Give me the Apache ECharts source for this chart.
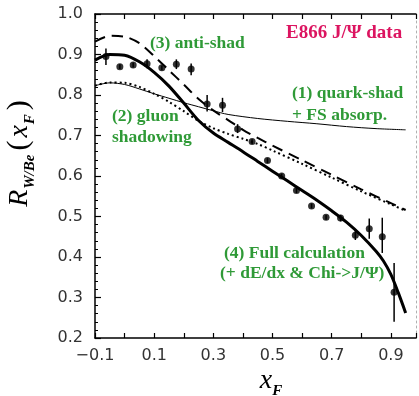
<!DOCTYPE html>
<html>
<head>
<meta charset="utf-8">
<script src="https://cdn.jsdelivr.net/npm/echarts@6/dist/echarts.min.js"></script>
<style>
  html, body { margin: 0; padding: 0; background: #ffffff; }
  #chart { width: 419px; height: 396px; }
</style>
</head>
<body>
<div id="chart"></div>
<script>
// E866 J/Psi nuclear ratio W/Be versus xF
const dataX  = [-0.063, -0.016, 0.029, 0.076, 0.126, 0.175, 0.225, 0.279, 0.331, 0.382, 0.431, 0.483, 0.531, 0.581, 0.632, 0.681, 0.730, 0.780, 0.827, 0.871, 0.911];
const dataY  = [0.895, 0.870, 0.874, 0.877, 0.867, 0.876, 0.864, 0.778, 0.775, 0.716, 0.685, 0.638, 0.600, 0.564, 0.526, 0.498, 0.496, 0.454, 0.470, 0.450, 0.313];
const dataLo = [0.874, 0.864, 0.868, 0.866, 0.861, 0.864, 0.849, 0.759, 0.758, 0.706, 0.679, 0.632, 0.594, 0.558, 0.520, 0.492, 0.488, 0.442, 0.445, 0.410, 0.240];
const dataHi = [0.915, 0.876, 0.880, 0.888, 0.873, 0.888, 0.878, 0.800, 0.793, 0.728, 0.691, 0.644, 0.606, 0.570, 0.532, 0.504, 0.504, 0.466, 0.495, 0.497, 0.385];

// (1) quark shadowing + final-state absorption
const quarkX = [-0.1, -0.05, 0.0, 0.05, 0.1, 0.15, 0.2, 0.25, 0.3, 0.35, 0.45, 0.55, 0.65, 0.75, 0.85, 0.95];
const quarkY = [0.823, 0.830, 0.826, 0.815, 0.803, 0.792, 0.781, 0.771, 0.761, 0.752, 0.742, 0.735, 0.729, 0.722, 0.717, 0.714];

// (2) gluon shadowing
const gluonX = [-0.1, -0.05, 0.0, 0.05, 0.1, 0.15, 0.2, 0.25, 0.3, 0.35, 0.4, 0.45, 0.5, 0.6, 0.7, 0.8, 0.9, 0.95];
const gluonY = [0.823, 0.831, 0.830, 0.820, 0.803, 0.783, 0.760, 0.736, 0.718, 0.704, 0.692, 0.679, 0.663, 0.630, 0.596, 0.562, 0.530, 0.514];

// (3) anti-shadowing
const antiX = [-0.1, -0.05, 0.0, 0.05, 0.1, 0.15, 0.2, 0.25, 0.3, 0.35, 0.4, 0.45, 0.5, 0.6, 0.7, 0.8, 0.9, 0.95];
const antiY = [0.932, 0.946, 0.944, 0.928, 0.896, 0.861, 0.826, 0.790, 0.762, 0.738, 0.714, 0.694, 0.675, 0.639, 0.603, 0.567, 0.533, 0.516];

// (4) full calculation
const fullX = [-0.1, -0.05, 0.0, 0.05, 0.1, 0.15, 0.2, 0.25, 0.3, 0.35, 0.4, 0.45, 0.5, 0.55, 0.6, 0.65, 0.7, 0.75, 0.8, 0.85, 0.875, 0.9, 0.925, 0.95];
const fullY = [0.886, 0.900, 0.898, 0.882, 0.856, 0.822, 0.780, 0.737, 0.706, 0.683, 0.660, 0.636, 0.612, 0.588, 0.564, 0.540, 0.514, 0.486, 0.453, 0.414, 0.390, 0.357, 0.312, 0.262];

const xTickLabels = ['\u22120.1', '0.1', '0.3', '0.5', '0.7', '0.9'];
const yTickLabels = ['0.2', '0.3', '0.4', '0.5', '0.6', '0.7', '0.8', '0.9', '1.0'];

const pairs = (xs, ys) => xs.map((x, i) => [x, ys[i]]);
const GREEN = '#2f9a37';
const MAGENTA = '#dc1460';
const SERIF = '"Liberation Serif", "DejaVu Serif", serif';

const chart = echarts.init(document.getElementById('chart'), null, { renderer: 'canvas' });

const curve = (name, xs, ys, width, type) => ({
  name: name,
  type: 'line',
  data: pairs(xs, ys),
  smooth: 0.3,
  showSymbol: false,
  silent: true,
  lineStyle: { color: '#000', width: width, type: type, cap: 'butt' },
  z: 3
});

chart.setOption({
  animation: false,
  backgroundColor: '#ffffff',
  grid: { left: 95, right: 2, top: 14, bottom: 58 },
  xAxis: [
    {
      type: 'value', position: 'bottom', min: -0.1, max: 0.985, interval: 0.1,
      axisLine: { show: true, onZero: false, lineStyle: { color: '#000', width: 1.5 } },
      axisTick: { show: true, inside: true, length: 5, lineStyle: { color: '#000', width: 1.2 } },
      splitLine: { show: false },
      axisLabel: {
        margin: 10, fontSize: 16, color: '#333', fontFamily: '"DejaVu Sans", sans-serif',
        formatter: v => {
          const k = Math.round(v * 10);
          if (Math.abs(k) % 2 !== 1) return '';
          return xTickLabels[(k + 1) / 2] || '';
        }
      }
    },
    {
      type: 'value', position: 'top', min: -0.1, max: 0.985, interval: 0.1,
      axisLine: { show: true, onZero: false, lineStyle: { color: '#000', width: 1.5 } },
      axisTick: { show: true, inside: true, length: 5, lineStyle: { color: '#000', width: 1.2 } },
      axisLabel: { show: false },
      splitLine: { show: false }
    }
  ],
  yAxis: [
    {
      type: 'value', position: 'left', min: 0.2, max: 1.0, interval: 0.1,
      axisLine: { show: true, onZero: false, lineStyle: { color: '#000', width: 1.5 } },
      axisTick: { show: true, inside: true, length: 6, lineStyle: { color: '#000', width: 1.2 } },
      minorTick: { show: true, splitNumber: 5, length: 3, lineStyle: { color: '#000', width: 1 } },
      splitLine: { show: false },
      axisLabel: {
        margin: 12, fontSize: 16, color: '#333', fontFamily: '"DejaVu Sans", sans-serif',
        formatter: v => yTickLabels[Math.round((v - 0.2) * 10)] || ''
      }
    },
    {
      type: 'value', position: 'right', min: 0.2, max: 1.0,
      axisLine: { show: true, onZero: false, lineStyle: { color: '#b0b0b0', width: 1, type: [2, 3] } },
      axisTick: { show: false }, axisLabel: { show: false }, splitLine: { show: false }
    }
  ],
  series: [
    curve('(1) quark-shad + FS absorp.', quarkX, quarkY, 1, 'solid'),
    curve('(2) gluon shadowing', gluonX, gluonY, 2, [2, 3]),
    curve('(3) anti-shad', antiX, antiY, 2, [11, 7]),
    curve('(4) Full calculation', fullX, fullY, 3, 'solid'),
    {
      name: 'errors',
      type: 'custom',
      silent: true,
      data: dataX.map((x, i) => [x, dataLo[i], dataHi[i]]),
      renderItem: (params, api) => {
        const lo = api.coord([api.value(0), api.value(1)]);
        const hi = api.coord([api.value(0), api.value(2)]);
        return {
          type: 'line',
          shape: { x1: lo[0], y1: lo[1], x2: hi[0], y2: hi[1] },
          style: { stroke: '#000', lineWidth: 1.5 }
        };
      },
      z: 4
    },
    {
      name: 'E866 J/\u03A8 data',
      type: 'scatter',
      data: pairs(dataX, dataY),
      symbol: 'circle',
      symbolSize: 7,
      itemStyle: { color: '#000' },
      silent: true,
      z: 5
    }
  ],
  graphic: [
    { type: 'text', left: 150, top: 34, z: 10,
      style: { text: '(3) anti-shad', fill: GREEN, font: 'bold 17.5px ' + SERIF } },
    { type: 'text', left: 286, top: 24, z: 10,
      style: { text: 'E866 J/\u03A8 data', fill: MAGENTA, font: 'bold 19px ' + SERIF } },
    { type: 'text', left: 292, top: 82, z: 10,
      style: { text: '(1) quark-shad\n+ FS absorp.', fill: GREEN, font: 'bold 17.5px ' + SERIF, lineHeight: 22 } },
    { type: 'text', left: 112, top: 106, z: 10,
      style: { text: '(2) gluon\nshadowing', fill: GREEN, font: 'bold 17.5px ' + SERIF, lineHeight: 21 } },
    { type: 'text', left: 224, top: 244, z: 10,
      style: { text: '(4) Full calculation', fill: GREEN, font: 'bold 17.5px ' + SERIF } },
    { type: 'text', left: 220, top: 264, z: 10,
      style: { text: '(+ dE/dx & Chi->J/\u03A8)', fill: GREEN, font: 'bold 17.5px ' + SERIF } },
    { type: 'text', x: 271, y: 381, z: 10,
      style: {
        text: '{v|x}{s|F}', align: 'center', verticalAlign: 'middle',
        rich: {
          v: { fontFamily: SERIF, fontStyle: 'italic', fontSize: 28, fill: '#000', verticalAlign: 'bottom' },
          s: { fontFamily: SERIF, fontStyle: 'italic', fontWeight: 'bold', fontSize: 15, fill: '#000', verticalAlign: 'bottom', padding: [0, 0, -4, 0] }
        }
      } },
    { type: 'text', x: 19, y: 152, rotation: Math.PI / 2, z: 10,
      style: {
        text: '{v|R}{s|W/Be}{p|(}{v|x}{s|F}{p|)}', align: 'center', verticalAlign: 'middle',
        rich: {
          v: { fontFamily: SERIF, fontStyle: 'italic', fontSize: 28, fill: '#000', verticalAlign: 'bottom' },
          p: { fontFamily: SERIF, fontSize: 30, fill: '#000', verticalAlign: 'bottom', padding: [0, 3, 0, 3] },
          s: { fontFamily: SERIF, fontStyle: 'italic', fontWeight: 'bold', fontSize: 15, fill: '#000', verticalAlign: 'bottom', padding: [0, 1, -4, 1] }
        }
      } }
  ]
});
</script>
</body>
</html>
